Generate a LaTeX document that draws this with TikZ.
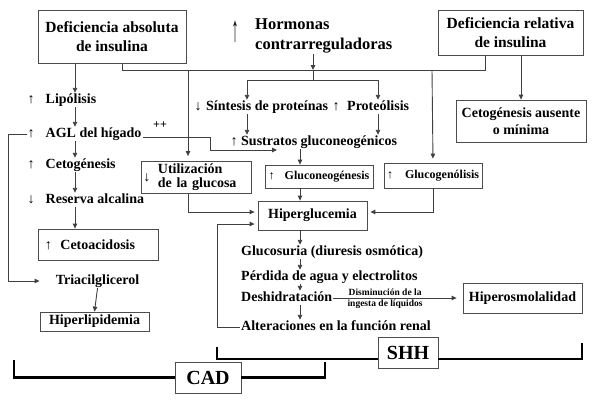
\documentclass[tikz,border=0pt]{standalone}
\usepackage{fontspec}
\usepackage{graphicx}
\setmainfont{Liberation Serif}
\usetikzlibrary{arrows.meta}
\newcommand{\incr}[1][11pt]{↑\hspace{#1}}
\newcommand{\decr}[1][11pt]{↓\hspace{#1}}

\begin{document}
\begin{tikzpicture}[x=1pt,y=-1pt,
    >={Triangle[length=5pt,width=4.5pt]},
    link/.style={draw=black!75,line width=0.9pt},
    flow/.style={link,->},
    box/.style={draw=black!70,line width=0.8pt,align=center,inner sep=2pt,
      font=\bfseries\fontsize{14}{17}\selectfont},
    lbl/.style={anchor=west,inner sep=1pt,text height=9.5pt,text depth=2.5pt,
      font=\bfseries\fontsize{14}{17}\selectfont},
    small/.style={font=\bfseries\fontsize{12}{14}\selectfont},
    big/.style={font=\bfseries\fontsize{15.5}{18.5}\selectfont},
    note/.style={font=\bfseries\fontsize{9.5}{11}\selectfont,inner sep=1.5pt},
    tag/.style={box,fill=white,font=\bfseries\fontsize{20}{24}\selectfont,
      minimum width=60pt,minimum height=31pt},
    bracket/.style={line width=2.6pt}
  ]
  \useasboundingbox (0,0) rectangle (593,405);

  % top row
  \node[box,big,minimum width=148pt,minimum height=53pt] (absbox) at (112,36.5)
    {Deficiencia absoluta\\de insulina};
  \node[box,big,minimum width=145pt,minimum height=45pt] (relbox) at (510.5,32.5)
    {Deficiencia relativa\\de insulina};
  \node[anchor=west,align=left,inner sep=0pt,
    font=\bfseries\fontsize{16.5}{20}\selectfont] (hormonas) at (255,36.4)
    {Hormonas\\contrarreguladoras};
  \node[inner sep=0pt,font=\fontsize{14}{14}\selectfont] (hup) at (235,31.5)
    {\scalebox{1}[2.6]{↑}};
  \node[box,minimum width=130pt,minimum height=42pt] (cetabs) at (521,121)
    {Cetogénesis ausente\\o mínima};

  % left column
  \node[lbl] (lipo) at (26.5,100) {\incr Lipólisis};
  \node[lbl] (agl) at (26.5,134) {\incr AGL del hígado};
  \node[lbl] (ceto) at (26.5,165) {\incr Cetogénesis};
  \node[lbl] (reserva) at (26.5,200) {\decr Reserva alcalina};
  \node[box,anchor=west,text width=107pt,align=left,inner xsep=6.5pt,
    minimum height=31pt] (cetoac) at (38,244.5) {\incr[8.5pt]Cetoacidosis};
  \node[lbl,anchor=center] (triacil) at (97.5,281) {Triacilglicerol};
  \node[box,minimum width=109pt,minimum height=19pt,inner sep=1pt] (hiperlip)
    at (94.5,321.5) {Hiperlipidemia};
  \node[small] (plus) at (160,125) {++};

  % middle
  \node[lbl] (sint) at (193.5,107) {\decr[4.5pt]Síntesis de proteínas};
  \node[lbl] (prot) at (331.5,107) {\incr[7.5pt]Proteólisis};
  \node[lbl] (sustr) at (229.5,142) {\incr[3.5pt]Sustratos gluconeogénicos};
  \node[box,anchor=west,text width=106pt,align=left,inner xsep=2pt,
    minimum height=31pt,font=\bfseries\fontsize{14}{14}\selectfont] (util)
    at (141,177.5)
    {\decr[7.5pt]\begin{tabular}[c]{@{}l@{}}Utilización\\de la glucosa\end{tabular}};
  \node[box,small,minimum width=108pt,minimum height=23pt] (gluconeo)
    at (319,176.5) {\incr[10pt]Gluconeogénesis};
  \node[box,small,minimum width=98pt,minimum height=25pt] (glucog)
    at (433,175.5) {\incr[12pt]Glucogenólisis};
  \node[box,minimum width=109pt,minimum height=29pt] (hiperg) at (312.5,215.5)
    {Hiperglucemia};
  \node[lbl] (glucos) at (240,252) {Glucosuria (diuresis osmótica)};
  \node[lbl] (perd) at (240,277) {Pérdida de agua y electrolitos};
  \node[lbl] (desh) at (240,298) {Deshidratación};
  \node[lbl] (alter) at (240,327) {Alteraciones en la función renal};
  \node[box,minimum width=119pt,minimum height=30pt] (hiperosm) at (522.5,298)
    {Hiperosmolalidad};

  % bottom tags
  \node[tag] (shh) at (408,352.5) {SHH};
  \node[tag,minimum width=66pt] (cad) at (208,377.5) {CAD};

  % helper points
  \coordinate (barL) at (122,70);
  \coordinate (barR) at (485,70);
  \coordinate (barH) at (313,70);
  \coordinate (split) at (313,80);
  \coordinate (colL) at (75,0);
  \coordinate (colU) at (188,70);
  \coordinate (colG) at (432,70);
  \coordinate (colS) at (247,0);
  \coordinate (colP) at (378,0);
  \coordinate (colM) at (300,0);
  \coordinate (aglK) at (210,150);
  \coordinate (shhL) at (217,347);
  \coordinate (shhR) at (582,343);
  \coordinate (cadL) at (14,360);
  \coordinate (cadR) at (325,362);

  % connectors
  \draw[link] (absbox.south -| barL) -- (barL) -- (barR) -- (relbox.south -| barR);
  \draw[flow] (hormonas.south -| barH) -- (barH);
  \draw[link] (barH) -- (split);
  \draw[flow] (split) -| (colS |- sint.north);
  \draw[flow] (split) -| (colP |- prot.north);
  \draw[flow,shorten >=5pt] (colU) -- (util.north -| colU);
  \draw[flow,shorten >=4pt] (colG) -- (glucog.north);
  \draw[flow] (cetabs.north |- relbox.south) -- (cetabs.north);

  \draw[flow] (absbox.south -| colL) -- (colL |- lipo.north);
  \draw[flow] (colL |- lipo.south) -- (colL |- agl.north);
  \draw[flow] (colL |- agl.south) -- (colL |- ceto.north);
  \draw[flow] (colL |- ceto.south) -- (colL |- reserva.north);
  \draw[flow] (colL |- reserva.south) -- (colL |- cetoac.north);
  \draw[flow] (agl.west) -- ++(-18.5,0) |- ([xshift=-15pt]triacil.west);
  \draw[flow] (triacil.south) -- (hiperlip.north);
  \draw[flow] (agl.base east) -| (aglK) -- ++(67,0);

  \draw[flow] (colS |- sint.south) -- (colS |- sustr.north);
  \draw[flow] (colP |- prot.south) -- (colP |- sustr.north);
  \draw[flow] (colM |- sustr.south) -- (colM |- gluconeo.north);
  \draw[flow] (colM |- gluconeo.south) -- (colM |- hiperg.north);
  \draw[flow,shorten >=3pt] (util.south -| colU) |- ([yshift=3.5pt]hiperg.west);
  \draw[flow,shorten >=3pt] (glucog.south) |- ([yshift=3.5pt]hiperg.east);
  \draw[flow,shorten >=3pt] (alter.west) -- ++(-23,0) |- ([yshift=-8.5pt]hiperg.west);

  \draw[flow] (colM |- hiperg.south) -- (colM |- glucos.north);
  \draw[flow] (colM |- glucos.south) -- (colM |- perd.north);
  \draw[flow] (colM |- perd.south) -- (colM |- desh.north);
  \draw[flow] (colM |- desh.south) -- (colM |- alter.north);
  \draw[flow,shorten >=6pt] (desh) --
    node[note,above,pos=0.4] {Disminución de la}
    node[note,below,pos=0.4] {ingesta de líquidos} (hiperosm);

  % brackets
  \draw[bracket] ([yshift=-6.5pt]shh.west) -| (shhL);
  \draw[bracket] ([yshift=-6.5pt]shh.east) -| (shhR);
  \draw[bracket] (cad.west) -| (cadL);
  \draw[bracket] (cad.east) -| (cadR);
\end{tikzpicture}
\end{document}
